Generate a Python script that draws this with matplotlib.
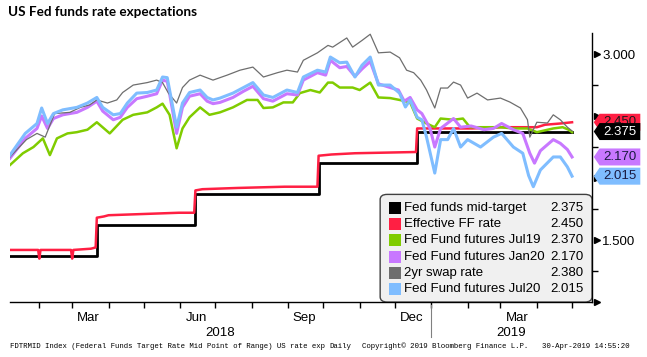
import numpy as np
import matplotlib
matplotlib.use("Agg")
import matplotlib.pyplot as plt
import matplotlib.dates as mdates
from matplotlib.patches import FancyBboxPatch, Polygon
from matplotlib.transforms import blended_transform_factory

# days since 2018-01-01
start = np.datetime64("2018-01-01")

mid_days = [6, 80, 164, 269, 353, 485]
mid_vals = [1.375, 1.625, 1.875, 2.125, 2.375, 2.375]

effr_days = [6, 30, 31, 32, 58, 59, 60, 75, 79, 80, 86, 90, 120, 150, 163, 164, 170,
             200, 240, 268, 269, 280, 300, 352, 353, 400, 425, 455, 462, 475, 485]
effr_vals = [1.42, 1.42, 1.35, 1.42, 1.42, 1.35, 1.42, 1.43, 1.44, 1.68, 1.69, 1.70,
             1.71, 1.72, 1.72, 1.90, 1.91, 1.92, 1.93, 1.93, 2.18, 2.19, 2.20, 2.21,
             2.40, 2.40, 2.41, 2.41, 2.43, 2.44, 2.45]

jul19_days = [6, 17, 26, 34, 40, 46, 55, 63, 72, 80, 91, 102, 111, 123, 131, 136, 142,
              148, 153, 159, 168, 176, 185, 196, 208, 217, 222, 230, 239, 247, 253, 262,
              270, 277, 281, 287, 298, 304, 313, 320, 330, 338, 347, 353, 361, 368, 373,
              384, 392, 398, 413, 424, 435, 447, 455, 469, 477, 482, 485]
jul19_vals = [2.105, 2.20, 2.25, 2.32, 2.185, 2.32, 2.36, 2.37, 2.39, 2.45, 2.36, 2.47,
              2.51, 2.53, 2.57, 2.60, 2.51, 2.24, 2.40, 2.49, 2.57, 2.51, 2.53, 2.57, 2.63,
              2.63, 2.565, 2.57, 2.61, 2.61, 2.685, 2.71, 2.69, 2.77, 2.77, 2.73, 2.73,
              2.71, 2.77, 2.65, 2.645, 2.63, 2.61, 2.48, 2.44, 2.41, 2.48, 2.47, 2.48,
              2.41, 2.41, 2.41, 2.40, 2.40, 2.37, 2.40, 2.41, 2.39, 2.37]

jan20_days = [6, 19, 29, 33, 38, 43, 51, 63, 72, 80, 85, 94, 100, 106, 114, 123, 131,
              136, 140, 142, 148, 153, 159, 168, 174, 179, 185, 196, 205, 213, 222, 230,
              242, 251, 256, 268, 275, 279, 287, 293, 300, 306, 313, 320, 330, 337, 342,
              347, 353, 357, 364, 368, 373, 384, 390, 399, 410, 418, 425, 435, 443, 449,
              453, 458, 469, 475, 481, 485]
jan20_vals = [2.16, 2.32, 2.40, 2.50, 2.40, 2.48, 2.51, 2.53, 2.57, 2.62, 2.54, 2.47,
              2.49, 2.57, 2.64, 2.66, 2.68, 2.79, 2.78, 2.68, 2.36, 2.57, 2.66, 2.68,
              2.62, 2.60, 2.61, 2.65, 2.70, 2.74, 2.64, 2.62, 2.68, 2.67, 2.79, 2.85,
              2.83, 2.95, 2.89, 2.90, 2.82, 2.88, 2.94, 2.76, 2.73, 2.71, 2.62, 2.65,
              2.55, 2.52, 2.40, 2.25, 2.40, 2.48, 2.41, 2.42, 2.39, 2.40, 2.44, 2.39,
              2.36, 2.20, 2.12, 2.22, 2.31, 2.28, 2.23, 2.17]

swap_days = [6, 20, 29, 36, 44, 57, 66, 74, 80, 89, 97, 102, 111, 123, 131, 136, 141,
             148, 153, 159, 168, 179, 191, 202, 213, 222, 234, 242, 251, 256, 268, 277,
             281, 293, 298, 306, 313, 320, 330, 338, 344, 350, 356, 361, 368, 373, 379,
             384, 390, 396, 404, 413, 424, 432, 441, 447, 449, 455, 464, 469, 475, 481,
             485]
swap_vals = [2.17, 2.31, 2.36, 2.33, 2.52, 2.53, 2.57, 2.59, 2.63, 2.605, 2.63, 2.69,
             2.75, 2.77, 2.79, 2.77, 2.685, 2.605, 2.73, 2.79, 2.83, 2.79, 2.83, 2.87,
             2.895, 2.815, 2.85, 2.87, 2.855, 2.95, 3.01, 3.07, 3.056, 3.13, 3.056,
             3.11, 3.16, 3.01, 3.016, 2.97, 2.87, 2.85, 2.79, 2.71, 2.565, 2.726, 2.726,
             2.774, 2.75, 2.645, 2.685, 2.63, 2.645, 2.613, 2.565, 2.47, 2.33, 2.45,
             2.444, 2.51, 2.47, 2.41, 2.38]

jul20_days = [6, 19, 29, 33, 38, 43, 51, 63, 72, 80, 85, 94, 100, 106, 114, 123, 131,
              136, 140, 142, 148, 153, 159, 168, 174, 179, 185, 196, 205, 213, 222, 230,
              242, 251, 256, 268, 275, 279, 287, 293, 300, 306, 313, 320, 330, 338, 343,
              347, 353, 357, 361, 368, 373, 379, 384, 390, 396, 407, 418, 425, 435, 443,
              448, 452, 458, 469, 475, 481, 485]
jul20_vals = [2.185, 2.36, 2.44, 2.565, 2.44, 2.52, 2.55, 2.57, 2.605, 2.65, 2.57,
              2.51, 2.52, 2.605, 2.685, 2.69, 2.71, 2.815, 2.81, 2.71, 2.41, 2.605,
              2.69, 2.71, 2.65, 2.63, 2.645, 2.685, 2.73, 2.77, 2.67, 2.65, 2.71, 2.69,
              2.815, 2.87, 2.855, 2.976, 2.93, 2.935, 2.815, 2.91, 2.976, 2.75, 2.75,
              2.685, 2.573, 2.63, 2.49, 2.47, 2.33, 2.04, 2.31, 2.31, 2.40, 2.25, 2.31,
              2.25, 2.33, 2.36, 2.25, 2.20, 2.02, 1.93, 2.065, 2.17, 2.17, 2.09, 2.015]

series = [
    ("Fed funds mid-target", "#000000", "2.375"),
    ("Effective FF rate", "#ff1f43", "2.450"),
    ("Fed Fund futures Jul19", "#80cc00", "2.370"),
    ("Fed Fund futures Jan20", "#c878ff", "2.170"),
    ("2yr swap rate", "#6e6e6e", "2.380"),
    ("Fed Fund futures Jul20", "#7fbdff", "2.015"),
]


def to_dates(days):
    return start + np.array(days).astype("timedelta64[D]")


fig = plt.figure(figsize=(6.47, 3.57), dpi=100)
ax = fig.add_axes([10 / 647, 55 / 357, 582 / 647, 269 / 357])

ax.plot(to_dates(mid_days), mid_vals, color="#000000", lw=2.0, drawstyle="steps-post")
ax.plot(to_dates(effr_days), effr_vals, color="#ff1f43", lw=1.8)
ax.plot(to_dates(jul19_days), jul19_vals, color="#80cc00", lw=1.8)
ax.plot(to_dates(jan20_days), jan20_vals, color="#c878ff", lw=2.2)
ax.plot(to_dates(swap_days), swap_vals, color="#6e6e6e", lw=0.9)
ax.plot(to_dates(jul20_days), jul20_vals, color="#7fbdff", lw=2.2)

ax.set_xlim(np.datetime64("2018-01-07"), np.datetime64("2019-05-18"))
ax.set_ylim(1.0, 3.17)

for s in ["left", "top"]:
    ax.spines[s].set_visible(False)
ax.spines["right"].set_linewidth(1.0)
ax.spines["bottom"].set_linewidth(1.0)

# y axis on the right
ax.yaxis.tick_right()
ax.set_yticks([1.0, 1.5, 2.0, 2.5, 3.0], labels=["", "1.500", "", "", "3.000"])
ax.set_yticks([1.25, 1.75, 2.25, 2.75], minor=True)
ax.tick_params(axis="y", which="major", length=0, pad=7.5, labelsize=9.5)
ax.tick_params(axis="y", which="minor", length=4, width=1)
for lab in ax.get_yticklabels():
    lab.set_fontfamily("Liberation Sans")
ytr = blended_transform_factory(ax.transAxes, ax.transData)
ax.plot([1.008] * 5, [1.0, 1.5, 2.0, 2.5, 3.0], ls="none", marker=">", ms=5,
        color="black", transform=ytr, clip_on=False)

# x axis: month ticks, mid-month labels
ax.xaxis.set_major_locator(mdates.MonthLocator())
ax.xaxis.set_major_formatter(plt.NullFormatter())
ax.xaxis.set_minor_locator(mdates.MonthLocator(bymonth=[3, 6, 9, 12], bymonthday=15))
ax.xaxis.set_minor_formatter(mdates.DateFormatter("%b"))
ax.tick_params(axis="x", which="major", length=4, width=1)
ax.tick_params(axis="x", which="minor", length=0, pad=7, labelsize=9.5)
for lab in ax.get_xticklabels(minor=True):
    lab.set_fontfamily("Liberation Sans")

xtr = blended_transform_factory(ax.transData, ax.transAxes)
x0, x1 = ax.get_xlim()
y2019 = mdates.date2num(np.datetime64("2019-01-01"))
ax.text((x0 + y2019) / 2, -0.117, "2018", transform=xtr, ha="center", va="center",
        fontsize=9.5, family="Liberation Sans")
ax.text((y2019 + x1) / 2, -0.117, "2019", transform=xtr, ha="center", va="center",
        fontsize=9.5, family="Liberation Sans")
ax.plot([y2019, y2019], [-0.01, -0.13], color="#808080", lw=0.8, transform=xtr,
        clip_on=False)

# legend box
box = FancyBboxPatch((0.636, 0.0), 0.364, 0.40,
                     boxstyle="round,pad=0,rounding_size=0.012",
                     transform=ax.transAxes, facecolor="#f0f0f0", edgecolor="#404040",
                     lw=1.0, zorder=5, mutation_aspect=1.6)
ax.add_patch(box)
for i, (name, col, val) in enumerate(series):
    yy = (302 - 208 - i * 16.2) / 269
    ax.add_patch(plt.Rectangle((0.651, yy - 0.022), 0.020, 0.044, transform=ax.transAxes,
                               facecolor=col, edgecolor="none", zorder=6))
    ax.text(0.677, yy, name, transform=ax.transAxes, va="center", ha="left",
            fontsize=9.5, family="Liberation Sans", zorder=7)
    ax.text(0.985, yy, val, transform=ax.transAxes, va="center", ha="right",
            fontsize=9.5, family="Liberation Sans", zorder=7)

# value tags at the right edge (later tags sit on top of earlier ones)
tags = [(2.45, "#ff1f43", "#1a1a1a", "2.450"),
        (2.375, "#000000", "#ffffff", "2.375"),
        (2.17, "#c878ff", "#1a1a40", "2.170"),
        (2.015, "#7fbdff", "#1a1a40", "2.015")]
h = 8.5 / 124
for k, (v, fc, tc, txt) in enumerate(tags):
    pts = [(1.003, v), (1.013, v + h), (1.083, v + h), (1.083, v - h), (1.013, v - h)]
    ax.add_patch(Polygon(pts, closed=True, transform=ytr, facecolor=fc, edgecolor="none",
                         clip_on=False, zorder=8 + k))
    ax.text(1.048, v, txt, transform=ytr, ha="center", va="center", color=tc,
            fontsize=9.5, family="Liberation Sans", clip_on=False, zorder=8.5 + k)

fig.text(8 / 647, 1 - 12 / 357, "US Fed funds rate expectations", fontsize=9.7,
         fontweight="bold", family="Lato", va="center", ha="left")

foot_y = 1 - 346 / 357
fig.text(10 / 647, foot_y, "FDTRMID Index (Federal Funds Target Rate Mid Point of Range) US rate exp",
         fontsize=5.3, family="Liberation Mono", va="center")
fig.text(329 / 647, foot_y, "Daily", fontsize=5.3, family="Liberation Mono", va="center")
fig.text(362 / 647, foot_y, "Copyright\u00a9 2019 Bloomberg Finance L.P.", fontsize=5.3,
         family="Liberation Mono", va="center")
fig.text(542 / 647, foot_y, "30-Apr-2019 14:55:20", fontsize=5.3,
         family="Liberation Mono", va="center")

fig.savefig("out.png", dpi=100)
